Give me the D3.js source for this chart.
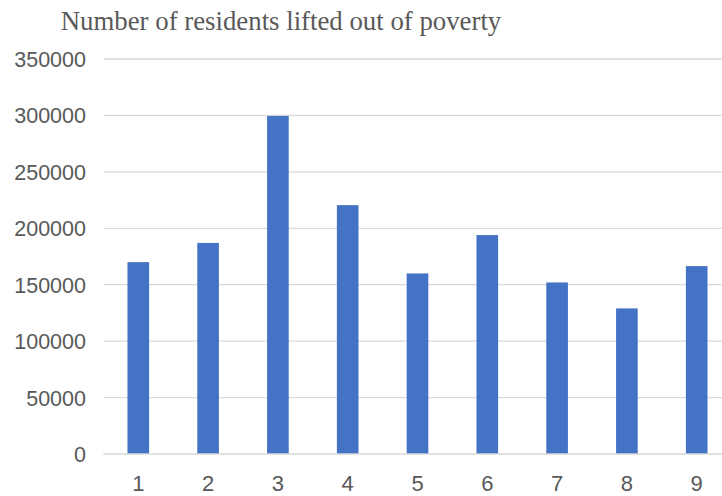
<!DOCTYPE html>
<html><head><meta charset="utf-8">
<script src="https://cdn.jsdelivr.net/npm/d3@7/dist/d3.min.js"></script>
<style>body{margin:0;background:#fff;overflow:hidden}</style>
</head><body>
<svg id="c" width="722" height="496"></svg>
<script>
const categories = ["1","2","3","4","5","6","7","8","9"];
const values = [170000, 187000, 299500, 220500, 160000, 194000, 152000, 129000, 166500];
const yTicks = [0, 50000, 100000, 150000, 200000, 250000, 300000, 350000];
const title = "Number of residents lifted out of poverty";

const svg = d3.select("#c");
const m = {left: 103.4, right: 731.6, top: 59, bottom: 454};
const x = d3.scaleBand().domain(categories).range([m.left, m.right]).paddingInner(0.69).paddingOuter(0.345);
const y = d3.scaleLinear().domain([0, 350000]).range([m.bottom, m.top]);

// gridlines
svg.append("g").selectAll("line").data(yTicks.filter(d => d > 0)).join("line")
  .attr("x1", 104).attr("x2", 722)
  .attr("y1", d => y(d)).attr("y2", d => y(d))
  .attr("stroke", "#d9d9d9").attr("stroke-width", 1.3);

// y labels
const yAxis = d3.axisLeft(y).tickValues(yTicks).tickSize(0).tickPadding(0).tickFormat(d3.format("d"));
const ya = svg.append("g").attr("transform", "translate(86,0)").call(yAxis);
ya.select(".domain").remove();
ya.selectAll("text").attr("fill", "#595959").attr("font-family", "Liberation Sans, Arial, sans-serif").attr("font-size", 21.5).attr("dy", "0.35em");

// bars
svg.append("g").selectAll("rect").data(values).join("rect")
  .attr("x", (d, i) => x(categories[i]))
  .attr("width", x.bandwidth())
  .attr("y", d => y(d))
  .attr("height", d => y(0) - y(d))
  .attr("fill", "#4472c4");

// x axis
const xAxis = d3.axisBottom(x).tickSize(0).tickPadding(0);
const xa = svg.append("g").attr("transform", `translate(0,${m.bottom})`).call(xAxis);
xa.select(".domain").attr("stroke", "#d9d9d9").attr("stroke-width", 1.3).attr("d", `M103.3,0H722`);
xa.selectAll("text").attr("fill", "#595959").attr("font-family", "Liberation Sans, Arial, sans-serif").attr("font-size", 22).attr("dy", "0").attr("y", 37);

// title
svg.append("text").attr("x", 281).attr("y", 30).attr("text-anchor", "middle")
  .attr("font-family", "Liberation Serif, Times New Roman, serif").attr("font-size", 26.8)
  .attr("fill", "#595959").text(title);
</script>
</body></html>
